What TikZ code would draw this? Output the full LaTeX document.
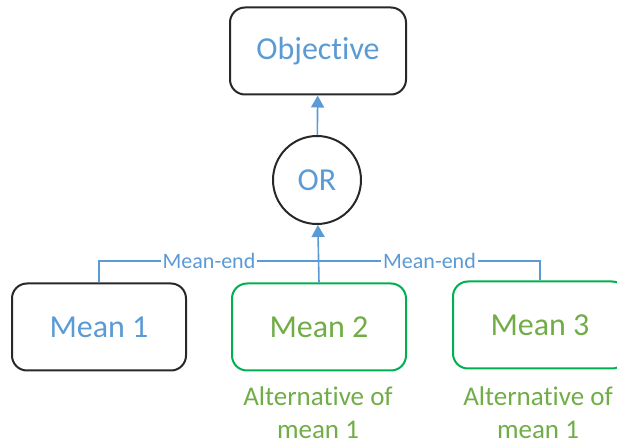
\documentclass[tikz,border=0pt]{standalone}
\usepackage{fontspec}
\setmainfont{Carlito}[RawFeature={-liga;-calt;-dlig;-clig}]
\definecolor{txtblue}{RGB}{91,155,213}
\definecolor{txtgreen}{RGB}{112,173,71}
\definecolor{boxgreen}{RGB}{0,176,80}
\definecolor{boxgray}{RGB}{40,40,40}
\usetikzlibrary{arrows.meta,positioning,calc}

\tikzset{
  meanbox/.style={draw=boxgray,line width=1pt,rounded corners=7.5pt,
    minimum width=87pt,minimum height=43.5pt,font=\fontsize{16}{19}\selectfont,
    text=txtblue,inner sep=0pt},
  altbox/.style={meanbox,draw=boxgreen,text=txtgreen},
  altnote/.style={font=\fontsize{13.5}{16.5}\selectfont,text=txtgreen,align=center},
  linkline/.style={draw=txtblue,line width=0.8pt},
  linklabel/.style={font=\fontsize{11}{13}\selectfont,text=txtblue,fill=white,inner sep=1pt}
}

\begin{document}
\begin{tikzpicture}[x=0.5pt,y=-0.5pt]
  \useasboundingbox (0,0) rectangle (617,444);
  % Objective and OR gate
  \node[meanbox,minimum width=88pt] (obj) at (318,51) {Objective};
  \node[draw=boxgray,line width=1pt,circle,minimum size=44pt,inner sep=0pt,
    font=\fontsize{16}{19}\selectfont,text=txtblue] (orgate) at (317,180) {OR};
  % Means
  \node[meanbox] (mean1) at (99,327) {Mean 1};
  \node[altbox] (mean2) at (319,327) {Mean 2};
  \node[altbox] (mean3) at (540,325) {Mean 3};
  % Notes below the alternatives
  \node[altnote] (alt2) at (318,413) {Alternative of\\mean 1};
  \node[altnote] (alt3) at (538,413) {Alternative of\\mean 1};
  % Bar of the mean-end links
  \coordinate (bar) at (0,261);
  % Arrows
  \draw[linkline,-{Triangle[length=6pt,width=6.5pt]}] (orgate) -- (obj);
  \draw[linkline,-{Triangle[length=6pt,width=6.5pt]}] (mean2.north) -- (orgate);
  \draw[linkline] (mean1.north) |- node[linklabel,pos=0.75] {Mean-end} (mean2.north |- bar);
  \draw[linkline] (mean3.north) |- node[linklabel,pos=0.75] {Mean-end} (mean2.north |- bar);
\end{tikzpicture}
\end{document}
